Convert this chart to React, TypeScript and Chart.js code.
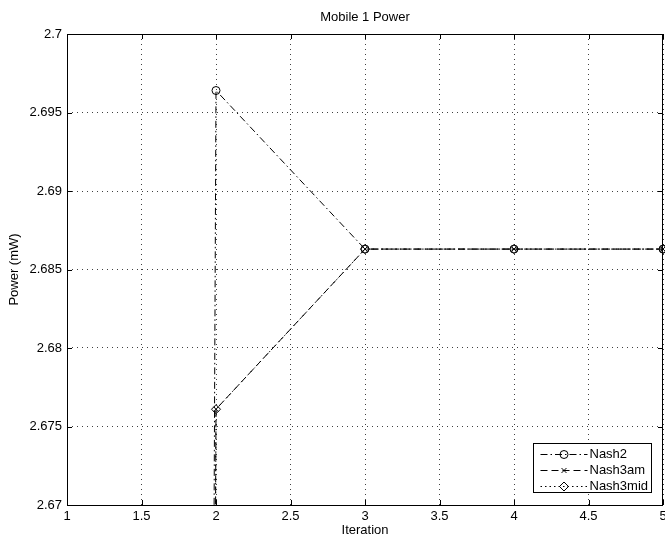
import React, { useEffect, useRef } from 'react';
import { Chart, registerables } from 'chart.js';

Chart.register(...registerables);

const iterations = [1, 2, 3, 4, 5];
const nash2 = [0, 2.6964, 2.6863, 2.6863, 2.6863];
const nash3am = [0, 2.6761, 2.6863, 2.6863, 2.6863];
const nash3mid = [0, 2.6761, 2.6863, 2.6863, 2.6863];
const seriesLabels = ['Nash2', 'Nash3am', 'Nash3mid'];
const xTicks = [1, 1.5, 2, 2.5, 3, 3.5, 4, 4.5, 5];
const yTicks = [2.67, 2.675, 2.68, 2.685, 2.69, 2.695, 2.7];

const FONT = '"Liberation Sans", Arial, Helvetica, sans-serif';

function drawMarker(ctx: CanvasRenderingContext2D, style: string, x: number, y: number, r: number) {
  ctx.beginPath();
  if (style === 'circle') {
    ctx.arc(x, y, r, 0, Math.PI * 2);
  } else if (style === 'crossRot') {
    const d = r * Math.SQRT1_2;
    ctx.moveTo(x - d, y - d);
    ctx.lineTo(x + d, y + d);
    ctx.moveTo(x - d, y + d);
    ctx.lineTo(x + d, y - d);
  } else {
    ctx.moveTo(x - r, y);
    ctx.lineTo(x, y - r);
    ctx.lineTo(x + r, y);
    ctx.lineTo(x, y + r);
    ctx.closePath();
  }
  ctx.stroke();
}

const framePlugin = {
  id: 'matlabFrame',
  afterDraw(chart: any) {
    const ctx: CanvasRenderingContext2D = chart.ctx;
    const { left, right, top, bottom } = chart.chartArea;
    const xs = chart.scales.x;
    const ys = chart.scales.y;
    ctx.save();
    ctx.strokeStyle = '#000';
    ctx.lineWidth = 1;
    ctx.setLineDash([]);
    // box
    ctx.strokeRect(Math.round(left) + 0.5, Math.round(top) + 0.5, Math.round(right - left) - 1, Math.round(bottom - top));
    // inner ticks
    const tl = 5;
    ctx.beginPath();
    xs.ticks.forEach((t: any) => {
      const px = Math.round(xs.getPixelForValue(t.value)) + 0.5;
      ctx.moveTo(px, bottom);
      ctx.lineTo(px, bottom - tl);
      ctx.moveTo(px, top);
      ctx.lineTo(px, top + tl);
    });
    ys.ticks.forEach((t: any) => {
      const py = Math.round(ys.getPixelForValue(t.value)) + 0.5;
      ctx.moveTo(left, py);
      ctx.lineTo(left + tl, py);
      ctx.moveTo(right, py);
      ctx.lineTo(right - tl, py);
    });
    ctx.stroke();

    // legend
    const bw = 118;
    const bh = 49;
    const bx = Math.round(right - 12 - bw) + 0.5;
    const by = Math.round(bottom - 13 - bh) + 0.5;
    ctx.fillStyle = '#fff';
    ctx.fillRect(bx, by, bw, bh);
    ctx.strokeRect(bx, by, bw, bh);
    ctx.font = '13px ' + FONT;
    ctx.textBaseline = 'middle';
    ctx.textAlign = 'left';
    ctx.fillStyle = '#000';
    chart.data.datasets.forEach((ds: any, i: number) => {
      const cy = by + 10 + i * 16;
      const x0 = bx + 7;
      const x1 = bx + 54;
      ctx.setLineDash(ds.borderDash || []);
      ctx.beginPath();
      ctx.moveTo(x0, Math.round(cy) + 0.5);
      ctx.lineTo(x1, Math.round(cy) + 0.5);
      ctx.stroke();
      ctx.setLineDash([]);
      drawMarker(ctx, ds.pointStyle, (x0 + x1) / 2, Math.round(cy) + 0.5, ds.pointRadius);
      ctx.fillText(ds.label, bx + 56, cy + 1);
    });
    ctx.restore();
  },
};

const fmt = (v: number) => String(Number(v.toFixed(4)));

export default function App() {
  const ref = useRef<HTMLCanvasElement | null>(null);
  useEffect(() => {
    if (!ref.current) return;
    const mk = (vals: number[]) => iterations.map((x, i) => ({ x, y: vals[i] }));
    const common = {
      borderColor: '#000',
      borderWidth: 1,
      pointBorderColor: '#000',
      pointBackgroundColor: 'rgba(0,0,0,0)',
      pointBorderWidth: 1,
      fill: false,
      tension: 0,
      clip: { left: 10, top: 10, right: 10, bottom: 0 },
    };
    const chart = new Chart(ref.current, {
      type: 'line',
      data: {
        datasets: [
          { ...common, label: seriesLabels[0], data: mk(nash2), borderDash: [7, 3, 1.5, 3], pointStyle: 'circle', pointRadius: 4 },
          { ...common, label: seriesLabels[1], data: mk(nash3am), borderDash: [7, 4], pointStyle: 'crossRot', pointRadius: 3.5 },
          { ...common, label: seriesLabels[2], data: mk(nash3mid), borderDash: [1.5, 3], pointStyle: 'rectRot', pointRadius: 4.5 },
        ] as any,
      },
      options: {
        animation: false,
        responsive: false,
        devicePixelRatio: 1,
        layout: { autoPadding: false, padding: { left: 0, right: 2, top: 0, bottom: 0 } },
        plugins: {
          legend: { display: false },
          tooltip: { enabled: false },
          title: {
            display: true,
            text: 'Mobile 1 Power',
            fullSize: false,
            color: '#000',
            font: { family: FONT, size: 13, weight: 'normal', lineHeight: 1.2 },
            padding: { top: 10, bottom: 8.4 },
          },
        },
        scales: {
          x: {
            type: 'linear',
            min: 1,
            max: 5,
            afterBuildTicks: (s: any) => {
              s.ticks = xTicks.map((v) => ({ value: v }));
            },
            afterFit: (s: any) => {
              s.height = 33;
              s.paddingLeft = 0;
              s.paddingRight = 0;
            },
            ticks: {
              color: '#000',
              font: { family: FONT, size: 13 },
              padding: 4,
              maxRotation: 0,
              autoSkip: false,
              callback: (v: any) => fmt(Number(v)),
            },
            grid: { drawTicks: false, color: 'rgba(0,0,0,0.75)', lineWidth: 1 },
            border: { display: false, dash: [1, 4] },
            title: {
              display: true,
              text: 'Iteration',
              color: '#000',
              font: { family: FONT, size: 13, lineHeight: 1 },
              padding: { top: 0, bottom: 1 },
            },
          },
          y: {
            type: 'linear',
            min: 2.67,
            max: 2.7,
            afterBuildTicks: (s: any) => {
              s.ticks = yTicks.map((v) => ({ value: v }));
            },
            afterFit: (s: any) => {
              s.width = 67;
              s.paddingTop = 0;
              s.paddingBottom = 0;
            },
            ticks: {
              color: '#000',
              font: { family: FONT, size: 13 },
              padding: 5,
              autoSkip: false,
              callback: (v: any) => fmt(Number(v)),
            },
            grid: { drawTicks: false, color: 'rgba(0,0,0,0.75)', lineWidth: 1 },
            border: { display: false, dash: [1, 4] },
            title: {
              display: true,
              text: 'Power (mW)',
              color: '#000',
              font: { family: FONT, size: 13, lineHeight: 1.2 },
              padding: { top: 7, bottom: 0 },
            },
          },
        },
      } as any,
      plugins: [framePlugin],
    });
    return () => chart.destroy();
  }, []);
  return (
    <div style={{ position: 'absolute', left: 0, top: 0, width: 665, height: 538, background: '#fff' }}>
      <canvas ref={ref} width={665} height={538} />
    </div>
  );
}
